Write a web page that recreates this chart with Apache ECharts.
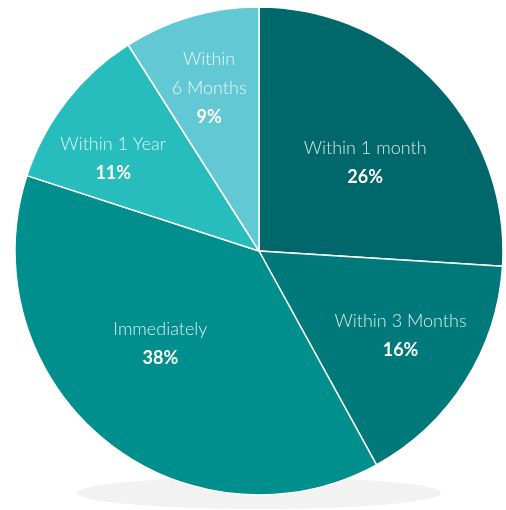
<!DOCTYPE html>
<html>
<head>
<meta charset="utf-8">
<script src="https://cdn.jsdelivr.net/npm/echarts@6/dist/echarts.min.js"></script>
<style>
  html, body { margin: 0; padding: 0; background: #fff; }
  #chart { width: 506px; height: 510px; }
</style>
</head>
<body>
<div id="chart"></div>
<script>
// clockwise from 12 o'clock
const categories = ['Within 1 month', 'Within 3 Months', 'Immediately', 'Within 1 Year', 'Within 6 Months'];
const shares = [26, 16, 38, 11, 9];
const sliceColors = ['#00676a', '#00797a', '#008f8c', '#26bdbc', '#62c8d4'];

// nudge labels from the default mid-radius spot to where the original puts them
const labelShift = [[15, -3], [36, 18], [-19, -4], [-47, -16], [-15, -43]];

const chart = echarts.init(document.getElementById('chart'));

chart.setOption({
  animation: false,
  graphic: [
    {
      type: 'ellipse',
      shape: { cx: 259, cy: 493, rx: 182, ry: 16 },
      style: { fill: '#f2f2f2' },
      z: -1
    }
  ],
  series: [
    {
      type: 'pie',
      center: [259, 251],
      radius: [0, 244],
      startAngle: 90,
      clockwise: true,
      avoidLabelOverlap: false,
      itemStyle: { borderColor: '#fff', borderWidth: 1.5 },
      emphasis: { disabled: true },
      label: {
        position: 'inside',
        formatter: (p) => {
          const name = p.name === 'Within 6 Months' ? 'Within\n6 Months' : p.name;
          return name.split('\n').map((s) => '{n|' + s + '}').join('\n') + '\n{p|' + p.value + '%}';
        },
        rich: {
          n: {
            fontFamily: 'Lato',
            fontWeight: 300,
            fontSize: 18,
            lineHeight: 29,
            color: 'rgba(255,255,255,0.85)'
          },
          p: {
            fontFamily: 'Lato',
            fontWeight: 'bold',
            fontSize: 18,
            lineHeight: 29,
            color: '#fff'
          }
        }
      },
      labelLayout: (params) => {
        const s = labelShift[params.dataIndex];
        return { dx: s[0], dy: s[1] };
      },
      data: categories.map((name, i) => ({
        name: name,
        value: shares[i],
        itemStyle: { color: sliceColors[i] }
      }))
    }
  ]
});
</script>
</body>
</html>
